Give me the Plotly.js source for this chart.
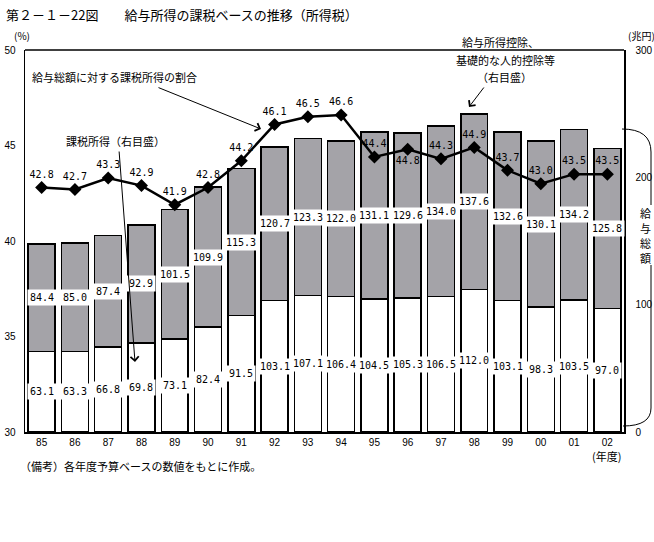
<!DOCTYPE html>
<html>
<head>
<meta charset="utf-8">
<script src="https://cdn.plot.ly/plotly-3.0.1.min.js"></script>
<style>html,body{margin:0;padding:0;background:#fff;}#chart{width:654px;height:542px;}</style>
</head>
<body>
<div id="chart"></div>
<script>
// ---- data ----
const years = ['85','86','87','88','89','90','91','92','93','94','95','96','97','98','99','00','01','02'];
const taxableIncome = [63.1,63.3,66.8,69.8,73.1,82.4,91.5,103.1,107.1,106.4,104.5,105.3,106.5,112.0,103.1,98.3,103.5,97.0];
const deductions = [84.4,85.0,87.4,92.9,101.5,109.9,115.3,120.7,123.3,122.0,131.1,129.6,134.0,137.6,132.6,130.1,134.2,125.8];
const ratio = [42.8,42.7,43.3,42.9,41.9,42.8,44.2,46.1,46.5,46.6,44.4,44.8,44.3,44.9,43.7,43.0,43.5,43.5];
const ratioLabelPos = ['top center','top center','top center','top center','top center','top center','top center','top center','top center','top center','top center','bottom center','top center','top center','top center','top center','top center','top center'];

// ---- layout geometry helpers ----
const W = 654, H = 542, L = 25, R = 30, T = 50, B = 110;
const PW = W - L - R, PH = H - T - B;
const px = x => (x - L) / PW;
const py = y => (H - B - y) / PH;
const JP = 'Noto Sans CJK JP';
const NUM = 'DejaVu Sans Mono';

const fmt = v => v.toFixed(1);

const traces = [
  {type:'bar', x: years, y: taxableIncome, yaxis:'y', name:'課税所得',
   marker:{color:'#ffffff', line:{color:'#000', width:1.5}}, hoverinfo:'y'},
  {type:'bar', x: years, y: deductions, yaxis:'y', name:'給与所得控除、基礎的な人的控除等',
   marker:{color:'#a4a3a8', line:{color:'#000', width:1.5}}, hoverinfo:'y'},
  {type:'scatter', mode:'lines+markers+text', x: years, y: ratio, yaxis:'y2', name:'割合',
   line:{color:'#000', width:2.5}, marker:{symbol:'diamond', size:10, color:'#000'},
   text: ratio.map(fmt), textposition: ratioLabelPos,
   textfont:{family:NUM, size:10, color:'#000'}, cliponaxis:false}
];

const ann = [];
years.forEach((yr, i) => {
  ann.push({x: i, y: taxableIncome[i] / 2, xref:'x', yref:'y', text: fmt(taxableIncome[i]),
    showarrow:false, bgcolor:'#fff', borderpad:2, font:{family:NUM, size:10, color:'#000'}});
  ann.push({x: i, y: taxableIncome[i] + deductions[i] / 2, xref:'x', yref:'y', text: fmt(deductions[i]),
    showarrow:false, bgcolor:'#fff', borderpad:2, font:{family:NUM, size:10, color:'#000'}});
});

function txt(text, x, y, size, xanchor) {
  return {text, x: px(x), y: py(y), xref:'paper', yref:'paper', showarrow:false,
    xanchor: xanchor || 'left', yanchor:'middle', font:{family:JP, size:size, color:'#000'}};
}
ann.push(txt('第２－１－22図　　給与所得の課税ベースの推移（所得税）', 4, 14, 13));
ann.push(txt('(%)', 12, 35, 10));
ann.push(txt('(兆円)', 626, 35, 10));
ann.push(txt('給与総額に対する課税所得の割合', 30, 77, 11));
ann.push(txt('課税所得（右目盛）', 64, 141, 11));
ann.push(txt('給与所得控除、', 500, 42, 11, 'center'));
ann.push(txt('基礎的な人的控除等', 505, 60, 11, 'center'));
ann.push(txt('（右目盛）', 504, 77, 11, 'center'));
['給','与','総','額'].forEach((c, k) => ann.push(txt(c, 645, 213 + k * 15, 11, 'center')));
ann.push(txt('(年度)', 606, 456, 11, 'center'));
ann.push(txt('（備考）各年度予算ベースの数値をもとに作成。', 18, 466, 11));

function arrow(x0, y0, x1, y1) {
  return {x: px(x1), y: py(y1), xref:'paper', yref:'paper', ax: px(x0), ay: py(y0),
    axref:'paper', ayref:'paper', text:'', showarrow:true, arrowhead:4, arrowsize:1.6,
    arrowwidth:1, arrowcolor:'#000'};
}
ann.push(arrow(157, 87, 261, 129));
ann.push(arrow(119, 150, 135, 362));
ann.push(arrow(485, 86, 469, 107));

const bracePath =
  `M${px(622)},${py(129)} Q${px(651)},${py(129)} ${px(651)},${py(152)} L${px(651)},${py(205)} ` +
  `M${px(651)},${py(265)} L${px(651)},${py(408)} Q${px(651)},${py(426)} ${px(623)},${py(426)}`;

const layout = {
  width: W, height: H,
  margin:{l:L, r:R, t:T, b:B, pad:0},
  paper_bgcolor:'#fff', plot_bgcolor:'#fff',
  showlegend:false, barmode:'stack', bargap:0.19,
  font:{family:'Liberation Sans', size:10, color:'#000'},
  xaxis:{type:'category', range:[-0.5, years.length - 0.5], dtick:1, tickangle:0, showgrid:false, zeroline:false,
    showline:true, linecolor:'#000', linewidth:1.5, ticks:'', tickfont:{family:'Liberation Sans', size:10}},
  yaxis:{side:'right', range:[0,300], tickvals:[0,100,200,300], showgrid:false, zeroline:false,
    showline:true, linecolor:'#000', linewidth:1.5, ticks:'', ticklabelstandoff:8,
    tickfont:{family:'Liberation Sans', size:10}},
  yaxis2:{overlaying:'y', side:'left', range:[30,50], dtick:5, showgrid:false, zeroline:false,
    showline:true, linecolor:'#000', linewidth:1.5, ticks:'', ticklabelstandoff:6,
    tickfont:{family:'Liberation Sans', size:10}},
  shapes:[
    {type:'line', xref:'paper', yref:'paper', x0:0, x1:1, y0:1, y1:1, line:{color:'#000', width:1.5}},
    {type:'path', xref:'paper', yref:'paper', path: bracePath, line:{color:'#000', width:1}}
  ],
  annotations: ann
};

Plotly.newPlot('chart', traces, layout, {displayModeBar:false, staticPlot:true});
</script>
</body>
</html>
